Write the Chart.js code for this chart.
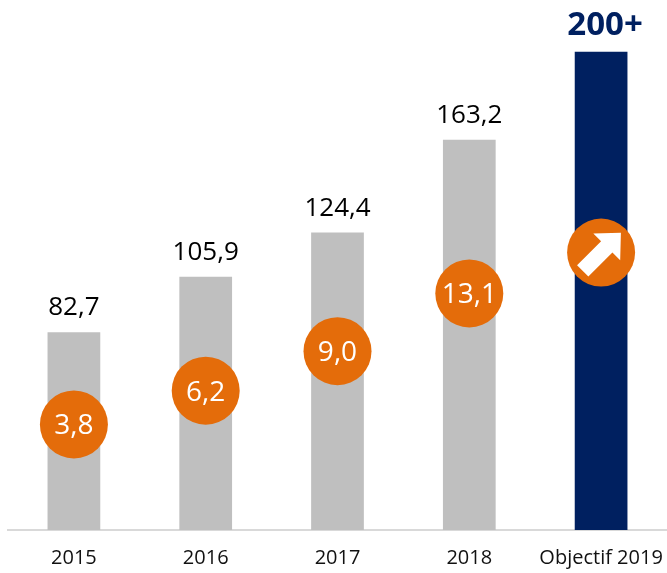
<!DOCTYPE html>
<html>
<head>
<meta charset="utf-8">
<title>Objectif 2019</title>
<script src="https://cdn.jsdelivr.net/npm/chart.js@4"></script>
<style>
  html, body { margin: 0; padding: 0; background: #fff; }
  #wrap { width: 667px; height: 573px; }
</style>
</head>
<body>
<div id="wrap"><canvas id="chart1" width="667" height="573"></canvas></div>
<script>
// data
const annees = ['2015', '2016', '2017', '2018', 'Objectif 2019'];
const valeurs = [82.7, 105.9, 124.4, 163.2, 200];
const etiquettes = ['82,7', '105,9', '124,4', '163,2', '200+'];
const croissance = [3.8, 6.2, 9.0, 13.1, 16];   // last one is the arrow bubble
const bulles = ['3,8', '6,2', '9,0', '13,1', null];

const GRIS = '#BFBFBF';
const MARINE = '#002060';
const ORANGE = '#E46C0A';

const couleurs = annees.map((a, i) => i === annees.length - 1 ? MARINE : GRIS);

function dessinerFleche(ctx, x, y) {
  ctx.save();
  ctx.translate(x, y);
  ctx.rotate(-Math.PI / 4);
  ctx.fillStyle = '#fff';
  ctx.beginPath();
  ctx.moveTo(-26, -8);
  ctx.lineTo(8, -8);
  ctx.lineTo(8, -19);
  ctx.lineTo(28, 0);
  ctx.lineTo(8, 19);
  ctx.lineTo(8, 8);
  ctx.lineTo(-26, 8);
  ctx.closePath();
  ctx.fill();
  ctx.restore();
}

const etiquettesPlugin = {
  id: 'etiquettes',
  afterDatasetsDraw(chart) {
    const ctx = chart.ctx;
    const barres = chart.getDatasetMeta(0).data;
    const points = chart.getDatasetMeta(1).data;
    ctx.save();
    ctx.textAlign = 'center';
    ctx.textBaseline = 'alphabetic';

    barres.forEach((bar, i) => {
      if (i === barres.length - 1) {
        ctx.font = 'bold 33px "Open Sans"';
        ctx.fillStyle = MARINE;
        ctx.fillText(etiquettes[i], bar.x + 4, bar.y - 17);
      } else {
        ctx.font = '26px "Open Sans"';
        ctx.fillStyle = '#000';
        ctx.fillText(etiquettes[i], bar.x, bar.y - 17);
      }
    });

    points.forEach((pt, i) => {
      if (bulles[i] === null) {
        dessinerFleche(ctx, pt.x, pt.y);
      } else {
        ctx.font = '28px "Open Sans"';
        ctx.fillStyle = '#fff';
        ctx.fillText(bulles[i], pt.x, pt.y + 10);
      }
    });
    ctx.restore();
  }
};

const ctx = document.getElementById('chart1').getContext('2d');
const chart = new Chart(ctx, {
  data: {
    labels: annees,
    datasets: [
      {
        type: 'bar',
        data: valeurs,
        backgroundColor: couleurs,
        borderWidth: 0,
        barPercentage: 0.4,
        categoryPercentage: 1,
        yAxisID: 'y',
        order: 2
      },
      {
        type: 'line',
        data: croissance,
        showLine: false,
        pointRadius: 34,
        pointHoverRadius: 34,
        pointBorderWidth: 0,
        pointBackgroundColor: ORANGE,
        yAxisID: 'y2',
        clip: false,
        order: 1
      }
    ]
  },
  options: {
    responsive: false,
    animation: false,
    layout: { autoPadding: false, padding: { left: 8, right: 0, top: 4, bottom: 0 } },
    plugins: {
      legend: { display: false },
      tooltip: { enabled: false }
    },
    scales: {
      x: {
        grid: { display: false, drawTicks: false },
        border: { display: true, color: '#D9D9D9', width: 2 },
        ticks: {
          padding: 16,
          maxRotation: 0,
          minRotation: 0,
          autoSkip: false,
          color: '#111',
          font: { family: 'Open Sans', size: 20 }
        },
        afterFit(scale) {
          scale.height = 43;
          scale.paddingLeft = 0;
          scale.paddingRight = 0;
        }
      },
      y: { display: false, min: 0, max: 220 },
      y2: { display: false, min: -3.69, max: 33.64 }
    }
  },
  plugins: [etiquettesPlugin]
});
</script>
</body>
</html>
